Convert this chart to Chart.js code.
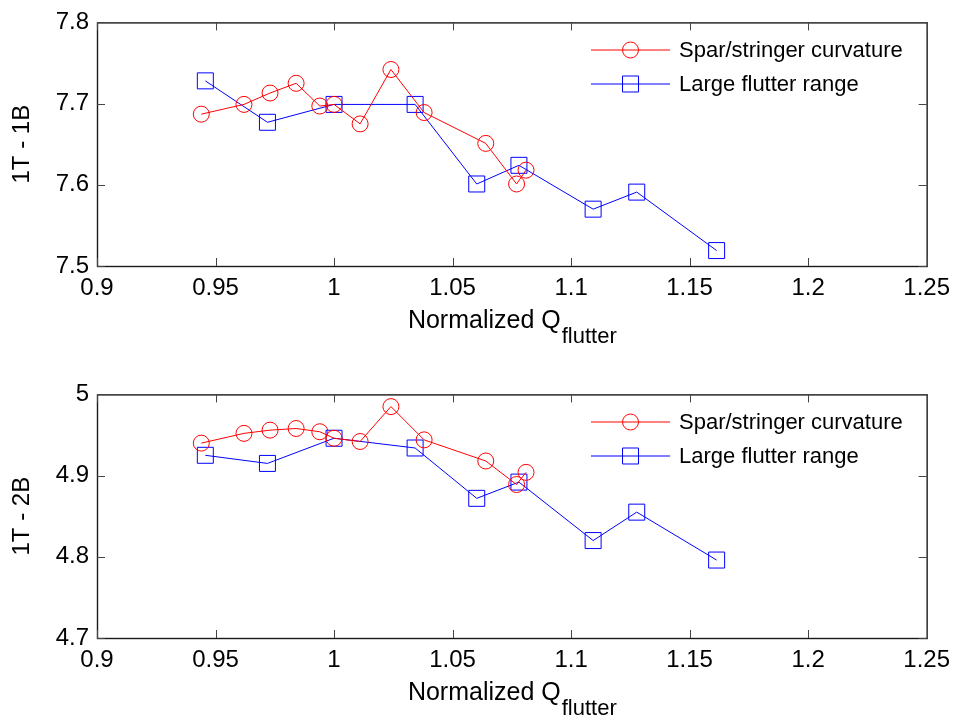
<!DOCTYPE html>
<html lang="en">
<head>
    <meta charset="UTF-8">
    <title>1T-1B / 1T-2B vs Normalized Q flutter</title>
    <script src="https://cdn.jsdelivr.net/npm/chart.js@4.4.0/dist/chart.umd.min.js"></script>
    <style>
        body {
            margin: 0;
            background: #fff;
            overflow: hidden;
            font-family: "Liberation Sans", Arial, sans-serif;
        }
        .panel {
            position: absolute;
            left: 0;
            width: 958px;
            height: 350px;
        }
    </style>
</head>
<body>
    <div class="panel" style="top:0"><canvas id="topChart"></canvas></div>
    <div class="panel" style="top:372px"><canvas id="bottomChart"></canvas></div>

    <script>
        // Data
        const xTicks = [0.9, 0.95, 1, 1.05, 1.1, 1.15, 1.2, 1.25];
        const yTicksTop = [7.5, 7.6, 7.7, 7.8];
        const yTicksBottom = [4.7, 4.8, 4.9, 5];

        const sparX = [0.944, 0.962, 0.973, 0.984, 0.994, 1.0, 1.011, 1.024, 1.038, 1.064, 1.077, 1.081];
        const spar1T1B = [7.687, 7.699, 7.713, 7.725, 7.697, 7.699, 7.675, 7.742, 7.689, 7.651, 7.601, 7.618];
        const spar1T2B = [4.940, 4.952, 4.956, 4.958, 4.954, 4.946, 4.942, 4.985, 4.944, 4.918, 4.889, 4.904];

        const rangeX = [0.9457, 0.9719, 1.0, 1.0342, 1.0602, 1.078, 1.1093, 1.1277, 1.1614];
        const range1T1B = [7.728, 7.677, 7.699, 7.699, 7.601, 7.624, 7.570, 7.591, 7.519];
        const range1T2B = [4.925, 4.915, 4.946, 4.934, 4.872, 4.892, 4.820, 4.855, 4.796];

        const seriesNames = ["Spar/stringer curvature", "Large flutter range"];

        const FONT = '"Liberation Sans", Arial, sans-serif';
        const RED = "#ff0000";
        const BLUE = "#0000ff";

        function toPoints(xs, ys) {
            return xs.map((x, i) => ({ x: x, y: ys[i] }));
        }

        function drawMarker(ctx, style, x, y, r) {
            ctx.beginPath();
            if (style === "circle") {
                ctx.arc(x, y, r, 0, Math.PI * 2);
            } else {
                const s = r * Math.SQRT1_2;
                ctx.rect(x - s, y - s, 2 * s, 2 * s);
            }
            ctx.stroke();
        }

        // Box, inward ticks, legend and x title drawn Matlab style
        const matlabLook = {
            id: "matlabLook",
            afterDraw(chart) {
                const ctx = chart.ctx;
                const a = chart.chartArea;
                const xs = chart.scales.x;
                const ys = chart.scales.y;
                ctx.save();
                ctx.strokeStyle = "#1a1a1a";
                ctx.lineWidth = 1.4;
                ctx.strokeRect(a.left + 0.5, a.top + 0.5, a.right - a.left, a.bottom - a.top);

                // inward tick marks on all four sides
                const tl = 8;
                ctx.lineWidth = 1;
                ctx.strokeStyle = "#444";
                xs.ticks.forEach(t => {
                    const px = Math.round(xs.getPixelForValue(t.value)) + 0.5;
                    ctx.beginPath();
                    ctx.moveTo(px, a.bottom); ctx.lineTo(px, a.bottom - tl);
                    ctx.moveTo(px, a.top); ctx.lineTo(px, a.top + tl);
                    ctx.stroke();
                });
                ys.ticks.forEach(t => {
                    const py = Math.round(ys.getPixelForValue(t.value)) + 0.5;
                    ctx.beginPath();
                    ctx.moveTo(a.left, py); ctx.lineTo(a.left + tl, py);
                    ctx.moveTo(a.right, py); ctx.lineTo(a.right - tl, py);
                    ctx.stroke();
                });

                // legend
                chart.data.datasets.forEach((ds, i) => {
                    const ly = 50 + i * 34;
                    ctx.strokeStyle = ds.borderColor;
                    ctx.lineWidth = 1;
                    ctx.beginPath();
                    ctx.moveTo(591, ly); ctx.lineTo(670, ly);
                    ctx.stroke();
                    drawMarker(ctx, ds.pointStyle, 630.5, ly, ds.pointRadius);
                    ctx.fillStyle = "#000";
                    ctx.font = "22px " + FONT;
                    ctx.textAlign = "left";
                    ctx.textBaseline = "middle";
                    ctx.fillText(ds.label, 679, ly + 1);
                });

                // x axis title with subscript
                const main = "Normalized Q";
                const sub = "flutter";
                ctx.fillStyle = "#000";
                ctx.textBaseline = "alphabetic";
                ctx.font = "25px " + FONT;
                const wMain = ctx.measureText(main).width;
                ctx.font = "22px " + FONT;
                const wSub = ctx.measureText(sub).width;
                const cx = (a.left + a.right) / 2;
                const x0 = cx - (wMain + wSub) / 2;
                ctx.font = "25px " + FONT;
                ctx.fillText(main, x0, a.bottom + 62);
                ctx.font = "22px " + FONT;
                ctx.fillText(sub, x0 + wMain + 1, a.bottom + 77);
                ctx.restore();
            }
        };

        function makeChart(canvasId, yTitle, yTicks, sparVals, rangeVals) {
            const ctx = document.getElementById(canvasId).getContext("2d");
            return new Chart(ctx, {
                type: "scatter",
                data: {
                    datasets: [
                        {
                            label: seriesNames[0],
                            data: toPoints(sparX, sparVals),
                            showLine: true,
                            borderColor: RED,
                            borderWidth: 1,
                            pointStyle: "circle",
                            pointRadius: 8,
                            pointBorderWidth: 1,
                            pointBorderColor: RED,
                            pointBackgroundColor: "rgba(0,0,0,0)"
                        },
                        {
                            label: seriesNames[1],
                            data: toPoints(rangeX, rangeVals),
                            showLine: true,
                            borderColor: BLUE,
                            borderWidth: 1,
                            pointStyle: "rect",
                            pointRadius: 11.3,
                            pointBorderWidth: 1,
                            pointBorderColor: BLUE,
                            pointBackgroundColor: "rgba(0,0,0,0)"
                        }
                    ]
                },
                options: {
                    responsive: true,
                    maintainAspectRatio: false,
                    animation: false,
                    layout: {
                        padding: { top: 16, right: 31, left: 0, bottom: 0 }
                    },
                    plugins: {
                        legend: { display: false },
                        tooltip: { enabled: false }
                    },
                    scales: {
                        x: {
                            type: "linear",
                            min: xTicks[0],
                            max: xTicks[xTicks.length - 1],
                            afterBuildTicks: function (scale) {
                                scale.ticks = xTicks.map(v => ({ value: v }));
                            },
                            afterFit: function (scale) {
                                scale.height = 84;
                            },
                            grid: { display: false, drawTicks: false },
                            border: { display: false },
                            ticks: {
                                color: "#000",
                                padding: 8,
                                maxRotation: 0,
                                autoSkip: false,
                                font: { family: FONT, size: 24 },
                                callback: v => String(v)
                            }
                        },
                        y: {
                            type: "linear",
                            min: yTicks[0],
                            max: yTicks[yTicks.length - 1],
                            afterBuildTicks: function (scale) {
                                scale.ticks = yTicks.map(v => ({ value: v }));
                            },
                            afterFit: function (scale) {
                                scale.width = 97;
                            },
                            grid: { display: false, drawTicks: false },
                            border: { display: false },
                            ticks: {
                                color: "#000",
                                padding: 8,
                                autoSkip: false,
                                font: { family: FONT, size: 24 },
                                callback: v => String(v)
                            },
                            title: {
                                display: true,
                                text: yTitle,
                                color: "#000",
                                font: { family: FONT, size: 24 },
                                padding: { top: 8, bottom: 0 }
                            }
                        }
                    }
                },
                plugins: [matlabLook]
            });
        }

        makeChart("topChart", "1T - 1B", yTicksTop, spar1T1B, range1T1B);
        makeChart("bottomChart", "1T - 2B", yTicksBottom, spar1T2B, range1T2B);
    </script>
</body>
</html>
